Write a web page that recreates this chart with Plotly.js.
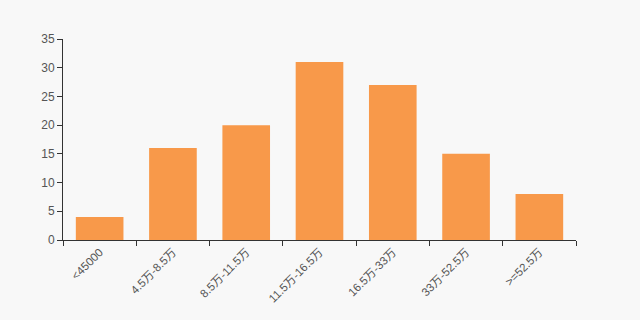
<!DOCTYPE html>
<html><head><meta charset="utf-8">
<script src="https://cdn.plot.ly/plotly-3.0.1.min.js"></script>
<style>html,body{margin:0;padding:0;background:#f8f8f8;}</style>
</head><body>
<div id="chart" style="width:640px;height:320px;"></div>
<script>
const categories = ["<45000", "4.5万-8.5万", "8.5万-11.5万", "11.5万-16.5万", "16.5万-33万", "33万-52.5万", ">=52.5万"];
const values = [4, 16, 20, 31, 27, 15, 8];
const yTicks = [0, 5, 10, 15, 20, 25, 30, 35];

Plotly.newPlot("chart", [{
  type: "bar",
  x: categories,
  y: values,
  marker: {color: "#f8994a"},
  hoverinfo: "x+y"
}], {
  width: 640, height: 320,
  paper_bgcolor: "#f8f8f8",
  plot_bgcolor: "#f8f8f8",
  margin: {l: 63, r: 64, t: 39, b: 80},
  bargap: 0.35,
  font: {family: "'Liberation Sans', Arial, 'Noto Sans CJK SC', sans-serif", size: 11, color: "#555"},
  xaxis: {
    type: "category",
    showline: true, linecolor: "#333", linewidth: 1,
    ticks: "outside", ticklen: 5, tickcolor: "#333",
    tickson: "boundaries",
    tickangle: -45,
    showgrid: false, zeroline: false,
    tickfont: {size: 11.5, color: "#555"}
  },
  yaxis: {
    range: [0, 35],
    tickvals: yTicks,
    showline: true, linecolor: "#333", linewidth: 1,
    ticks: "outside", ticklen: 5, tickcolor: "#333",
    showgrid: false, zeroline: false,
    tickfont: {size: 12, color: "#555"}
  },
  showlegend: false
}, {displayModeBar: false});
</script>
</body></html>
